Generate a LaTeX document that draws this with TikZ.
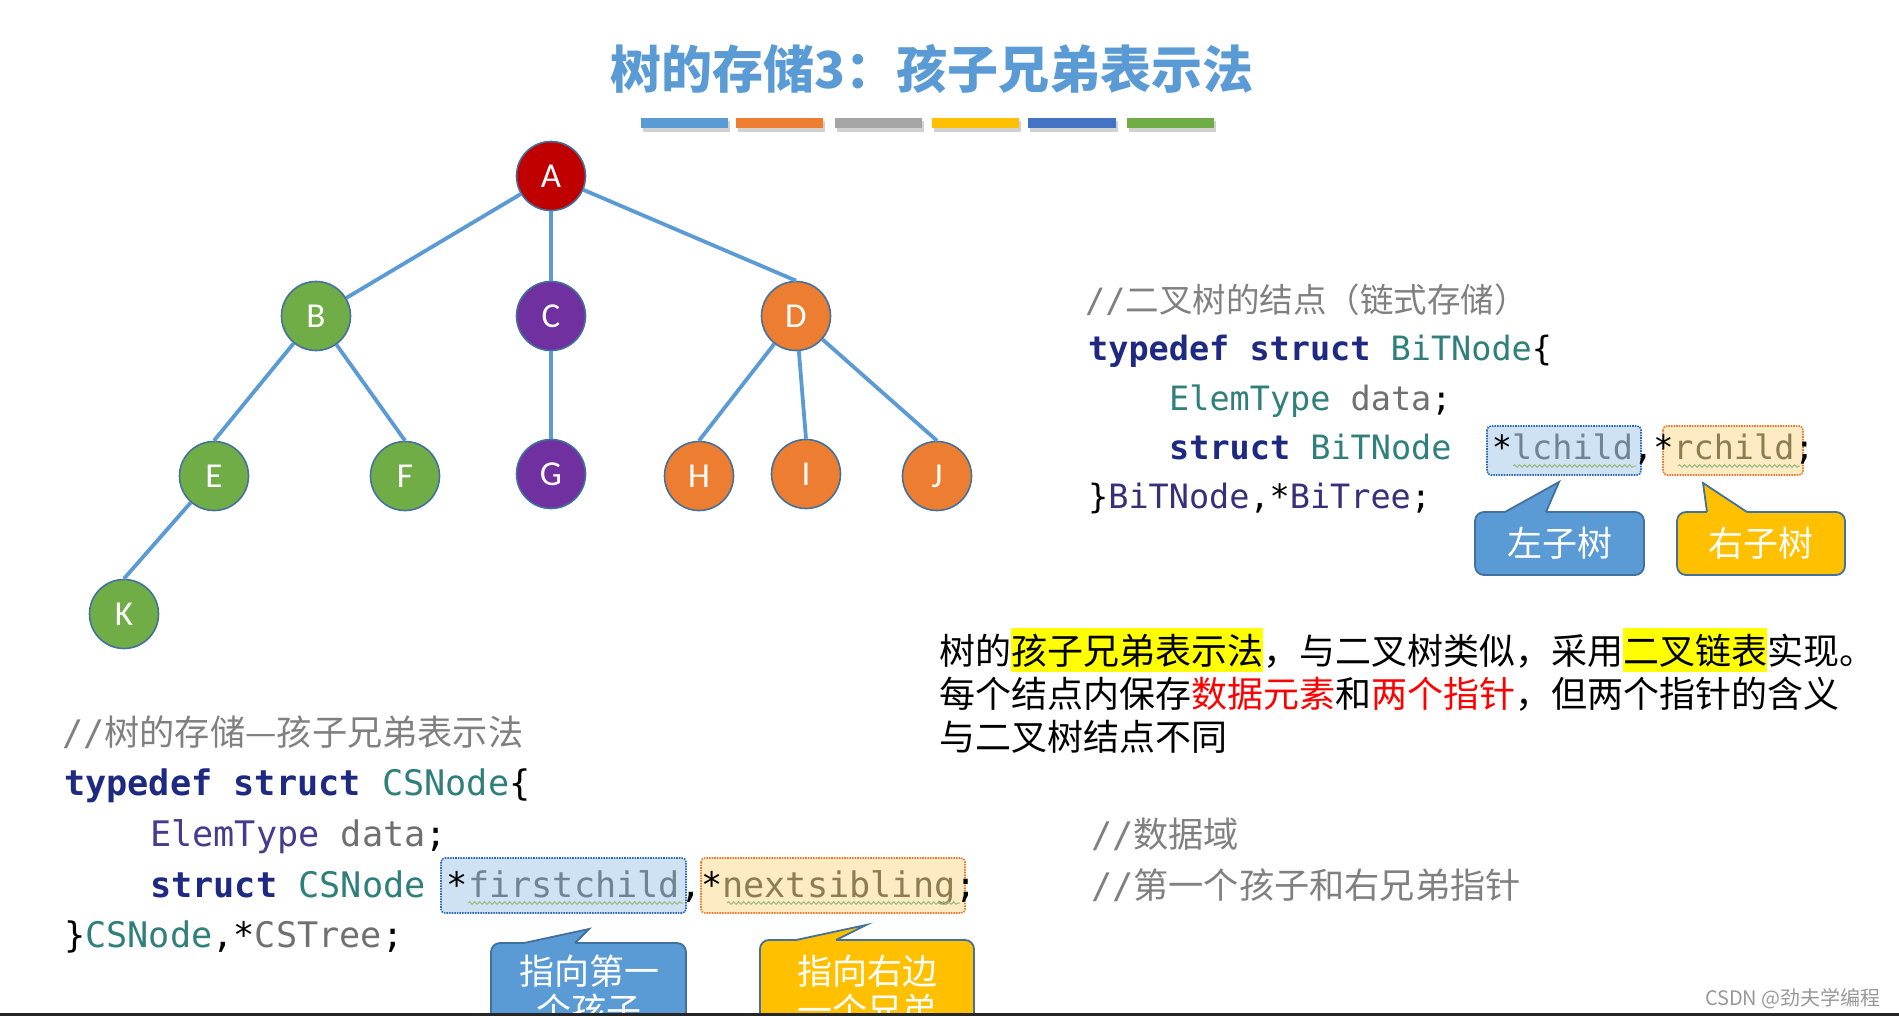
\documentclass[tikz,border=0pt]{standalone}
\usepackage{fontspec}
\usetikzlibrary{decorations.pathmorphing}
\setmonofont{DejaVu Sans Mono}
\newfontfamily\cjk{Noto Sans CJK SC}
\newfontfamily\carlito{Carlito}
\newcommand\myfs[1]{\fontsize{#1}{#1}\selectfont}
\definecolor{titleblue}{HTML}{5B9BD5}
\definecolor{barA}{HTML}{5B9BD5}
\definecolor{barB}{HTML}{ED7D31}
\definecolor{barC}{HTML}{A5A5A5}
\definecolor{barD}{HTML}{FFC000}
\definecolor{barE}{HTML}{4472C4}
\definecolor{barF}{HTML}{70AD47}
\definecolor{nred}{HTML}{C00000}
\definecolor{ngreen}{HTML}{70AD47}
\definecolor{npurple}{HTML}{7030A0}
\definecolor{norange}{HTML}{ED7D31}
\definecolor{nborder}{HTML}{41719C}
\definecolor{edgeblue}{HTML}{5B9BD5}
\definecolor{kw}{HTML}{1E2A82}
\definecolor{tl}{HTML}{2F7F7A}
\definecolor{dg}{HTML}{707070}
\definecolor{cmt}{HTML}{808080}
\definecolor{pn}{HTML}{35307A}
\definecolor{pp}{HTML}{443C8C}
\definecolor{lc}{HTML}{6F8394}
\definecolor{rc}{HTML}{8C7E50}
\definecolor{lboxfill}{HTML}{CFE2F3}
\definecolor{lboxdraw}{HTML}{2E6DB4}
\definecolor{rboxfill}{HTML}{FDEBC4}
\definecolor{rboxdraw}{HTML}{ED7D31}
\definecolor{squig}{HTML}{9CBB80}
\definecolor{cblue}{HTML}{5B9BD5}
\definecolor{corange}{HTML}{FFC000}
\definecolor{hlyellow}{HTML}{FFFF00}
\newcommand\hlt[1]{{\setlength\fboxsep{0pt}\colorbox{hlyellow}{\rule[-8pt]{0pt}{44pt}#1}}}
\newcommand\mycallout[9]{%
  \draw[calloutline, fill=#1, rounded corners=9pt] (#2,#3) rectangle (#4,#5);
  \fill[#1] (#6,#3+2) -- (#6,#3) -- (#8,#9) -- (#7,#3) -- (#7,#3+2) -- cycle;
  \draw[calloutline, line join=miter] (#6,#3) -- (#8,#9) -- (#7,#3);
}
\tikzset{
  tn/.style={circle, minimum size=69pt, inner sep=0pt, draw=nborder, line width=1.6pt,
    text=white, font=\carlito\myfs{35}},
  tedge/.style={draw=edgeblue, line width=3.8pt},
  ctop/.style={anchor=base west, inner sep=0pt, font=\ttfamily\myfs{33.5}},
  cbot/.style={anchor=base west, inner sep=0pt, font=\ttfamily\myfs{35.2}},
  para/.style={anchor=base west, inner sep=0pt, font=\cjk\myfs{36}},
  ctext/.style={inner sep=0pt, text=white, font=\cjk\myfs{35}},
  calloutline/.style={draw=nborder, line width=1.8pt},
  lboxstyle/.style={fill=lboxfill, draw=lboxdraw, densely dotted, line width=1.6pt, rounded corners=4pt},
  rboxstyle/.style={fill=rboxfill, draw=rboxdraw, densely dotted, line width=1.6pt, rounded corners=4pt},
  squiggle/.style={draw=squig, line width=1pt, decorate, decoration={snake, amplitude=1.3pt, segment length=5pt}},
  barshadow/.style={fill=black, opacity=0.18}
}
\begin{document}
\begin{tikzpicture}[x=1pt, y=-1pt]
\useasboundingbox (0,0) rectangle (1899,1016);
\clip (0,0) rectangle (1899,1016);
\fill[white] (0,0) rectangle (1899,1016);

% title
\node[anchor=base, inner sep=0pt, text=titleblue, font=\cjk\bfseries\myfs{51}] (title) at (932,89) {树的存储3：孩子兄弟表示法};

% colour bars
\foreach \xa/\xb/\c in {641/728/barA, 736/823/barB, 835/922/barC, 932/1019/barD, 1028/1116/barE, 1127/1214/barF}{
  \fill[barshadow] (\xa+2,121) rectangle (\xb+2,132);
  \fill[\c] (\xa,118) rectangle (\xb,128);
}

% tree
\node[tn, fill=nred] (A) at (551,176) {A};
\node[tn, fill=ngreen] (B) at (316,316) {B};
\node[tn, fill=npurple] (C) at (551,316) {C};
\node[tn, fill=norange] (D) at (796,316) {D};
\node[tn, fill=ngreen] (E) at (214,476) {E};
\node[tn, fill=ngreen] (F) at (405,476) {F};
\node[tn, fill=npurple] (G) at (551,474) {G};
\node[tn, fill=norange] (H) at (699,476) {H};
\node[tn, fill=norange] (I) at (806,474) {I};
\node[tn, fill=norange] (J) at (937,476) {J};
\node[tn, fill=ngreen] (K) at (124,614) {K};
\draw[tedge] (A) -- (B);
\draw[tedge] (A) -- (C);
\draw[tedge] (A) -- (D.north);
\draw[tedge] (B) -- (E.north);
\draw[tedge] (B) -- (F.north);
\draw[tedge] (C) -- (G);
\draw[tedge] (D) -- (H.north);
\draw[tedge] (D) -- (I.north);
\draw[tedge] (D) -- (J.north);
\draw[tedge] (E) -- (K.north);

% binary tree code (top right)
\draw[lboxstyle] (1487,426) rectangle (1641,475);
\draw[rboxstyle] (1663,426) rectangle (1803,475);
\node[ctop] (bc1) at (1085,313) {\color{cmt}//{\cjk 二叉树的结点（链式存储）}};
\node[ctop] (bc2) at (1088,361) {\textcolor{kw}{\bfseries typedef struct} \textcolor{tl}{BiTNode}\{};
\node[ctop] (bc3) at (1169,410) {\textcolor{tl}{ElemType} \textcolor{dg}{data};};
\node[ctop] (bc4) at (1169,459) {\textcolor{kw}{\bfseries struct} \textcolor{tl}{BiTNode}\ \ *\textcolor{lc}{lchild},*\textcolor{rc}{rchild};};
\node[ctop] (bc5) at (1088,508) {\}\textcolor{pn}{BiTNode},*\textcolor{pn}{BiTree};};
\draw[squiggle] (1513,466) -- (1636,466);
\draw[squiggle] (1678,466) -- (1800,466);

% callouts top
\mycallout{cblue}{1475}{512}{1644}{575}{1505}{1546}{1559}{482}
\node[ctext] (lt) at (1560,543) {左子树};
\mycallout{corange}{1677}{512}{1845}{575}{1707}{1747}{1703}{483}
\node[ctext] (rt) at (1761,543) {右子树};

% paragraph
\node[para] (p1) at (939,664) {树的\hlt{孩子兄弟表示法}，与二叉树类似，采用\hlt{二叉链表}实现。};
\node[para] (p2) at (939,707) {每个结点内保存\textcolor{red}{数据元素}和\textcolor{red}{两个指针}，但两个指针的含义};
\node[para] (p3) at (939,750) {与二叉树结点不同};

% CS tree code (bottom left)
\draw[lboxstyle] (441,858) rectangle (686,913);
\draw[rboxstyle] (701,858) rectangle (965,913);
\node[cbot] (cs1) at (62,745) {\color{cmt}//{\cjk 树的存储—孩子兄弟表示法}};
\node[cbot] (cs2) at (64,795) {\textcolor{kw}{\bfseries typedef struct} \textcolor{tl}{CSNode}\{};
\node[cbot] (cs3) at (150,846) {\textcolor{pp}{ElemType} \textcolor{dg}{data};};
\node[cbot] (cs4) at (150,897) {\textcolor{kw}{\bfseries struct} \textcolor{tl}{CSNode} *\textcolor{lc}{firstchild},*\textcolor{rc}{nextsibling};};
\node[cbot] (cs5) at (64,947) {\}\textcolor{tl}{CSNode},*\textcolor{dg}{CSTree};};
\draw[squiggle] (468,903) -- (683,903);
\draw[squiggle] (727,903) -- (960,903);

% right comments
\node[cbot] (r1) at (1091,847) {\color{cmt}//{\cjk 数据域}};
\node[cbot] (r2) at (1091,898) {\color{cmt}//{\cjk 第一个孩子和右兄弟指针}};

% callouts bottom (cut off by the page edge, as in the reference)
\mycallout{cblue}{491}{943}{686}{1080}{524}{575}{589}{929}
\node[ctext] (ft1) at (589,971) {指向第一};
\node[ctext] (ft2) at (589,1010) {个孩子};
\mycallout{corange}{760}{940}{974}{1080}{796}{836}{866}{925}
\node[ctext] (nt1) at (867,971) {指向右边};
\node[ctext] (nt2) at (867,1010) {一个兄弟};

% footer
\node[anchor=base east, inner sep=0pt, text=black!40, font=\cjk\myfs{20}] (csdn) at (1881,1005) {CSDN @劲夫学编程};
\fill[black!85] (0,1013) rectangle (1899,1016);
\end{tikzpicture}
\end{document}
